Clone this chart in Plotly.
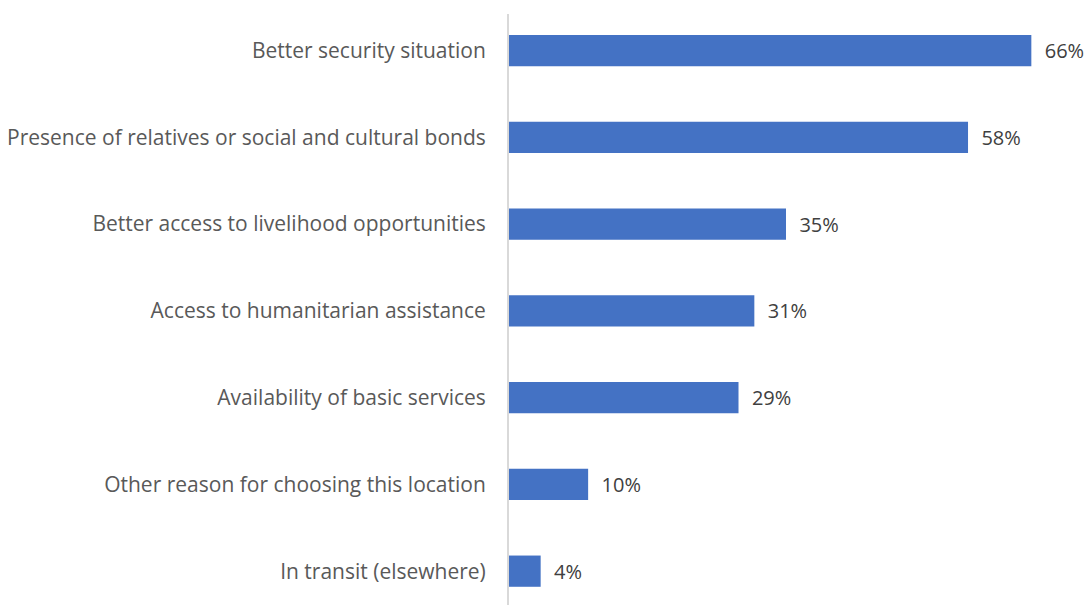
import plotly.graph_objects as go

categories = [
    "Better security situation",
    "Presence of relatives or social and cultural bonds",
    "Better access to livelihood opportunities",
    "Access to humanitarian assistance",
    "Availability of basic services",
    "Other reason for choosing this location",
    "In transit (elsewhere)",
]
values = [66, 58, 35, 31, 29, 10, 4]
value_labels = ["66%", "58%", "35%", "31%", "29%", "10%", "4%"]

fig = go.Figure(
    go.Bar(
        x=values,
        y=list(range(len(categories))),
        orientation="h",
        marker=dict(color="#4472C4", line=dict(width=0)),
        text=value_labels,
        textposition="outside",
        texttemplate="  %{text}",
        constraintext="none",
        textfont=dict(family="Open Sans", size=20, color="#404040"),
        cliponaxis=False,
        width=0.36,
    )
)

fig.update_layout(
    width=1087,
    height=605,
    margin=dict(l=509, r=24, t=14, b=0),
    paper_bgcolor="white",
    plot_bgcolor="white",
    showlegend=False,
    font=dict(family="Open Sans", size=20, color="#595959"),
)
fig.update_xaxes(
    range=[0, 70],
    showgrid=False,
    zeroline=False,
    showticklabels=False,
    showline=False,
)
fig.update_yaxes(
    range=[6.39, -0.421],
    tickmode="array",
    tickvals=list(range(len(categories))),
    ticktext=categories,
    showgrid=False,
    zeroline=False,
    showline=True,
    linecolor="#d9d9d9",
    linewidth=2,
    ticks="",
    ticklabelstandoff=17,
    tickfont=dict(family="Open Sans", size=21, color="#595959"),
)

fig.write_html("out.html")
